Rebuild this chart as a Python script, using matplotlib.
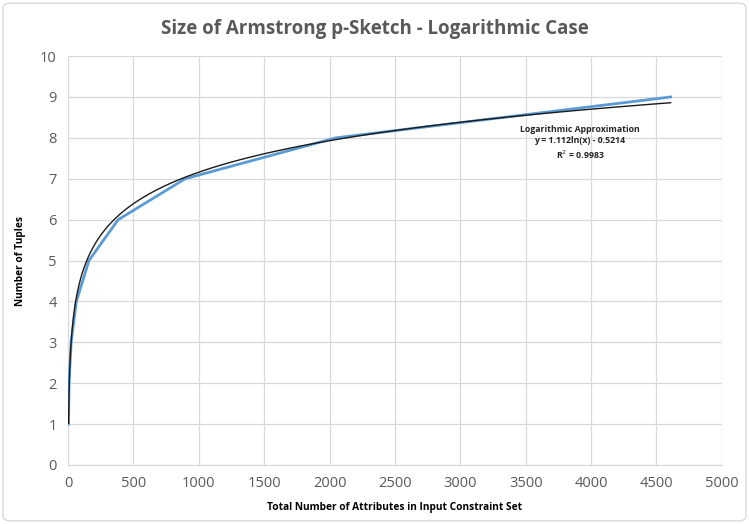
import numpy as np
import matplotlib
matplotlib.use("Agg")
import matplotlib.pyplot as plt
from matplotlib.patches import FancyBboxPatch

# Data
x_attrs = [4, 8, 24, 64, 160, 384, 896, 2048, 4608]
y_tuples = [1, 2, 3, 4, 5, 6, 7, 8, 9]
trend_a = 1.112
trend_b = -0.5214
r_squared = 0.9983
x_ticks = [0, 500, 1000, 1500, 2000, 2500, 3000, 3500, 4000, 4500, 5000]
y_ticks = [0, 1, 2, 3, 4, 5, 6, 7, 8, 9, 10]

plt.rcParams['font.family'] = ['Open Sans', 'DejaVu Sans']

fig = plt.figure(figsize=(7.49, 5.24), dpi=100)
fig.patch.set_facecolor('white')
border = FancyBboxPatch((0.004, 0.006), 0.992, 0.988, boxstyle="round,pad=0,rounding_size=0.01",
                        transform=fig.transFigure, facecolor='none', edgecolor='#d9d9d9', linewidth=1)
fig.patches.append(border)

ax = fig.add_axes([0.0908, 0.1126, 0.873, 0.7804])
ax.set_xlim(0, 5000)
ax.set_ylim(0, 10)
ax.set_xticks(x_ticks)
ax.set_yticks(y_ticks)
ax.grid(True, color='#d9d9d9', linewidth=0.9)
ax.set_axisbelow(True)
for s in ['top', 'right']:
    ax.spines[s].set_visible(False)
ax.spines['left'].set_color('#d9d9d9')
ax.spines['bottom'].set_color('#d9d9d9')
ax.tick_params(length=0, labelsize=10.5, labelcolor='#595959', pad=8)

ax.plot(x_attrs, y_tuples, color='#5b9bd5', linewidth=2, zorder=3)

xt = np.linspace(min(x_attrs), max(x_attrs), 2000)
ax.plot(xt, trend_a * np.log(xt) + trend_b, color='#1a1a1a', linewidth=1, zorder=4)

ax.text(3914, 7.87, 'Logarithmic Approximation\n'
        f'y = {trend_a}ln(x) - {abs(trend_b)}\nR$^2$ = {r_squared}',
        ha='center', va='center', fontsize=6.3, fontweight='bold', color='#262626',
        linespacing=1.3)

ax.set_xlabel('Total Number of Attributes in Input Constraint Set', fontsize=7.3,
              fontweight='bold', labelpad=8)
ax.set_ylabel('Number of Tuples', fontsize=7.3, fontweight='bold', labelpad=10)

fig.text(0.5, 0.945, 'Size of Armstrong p-Sketch - Logarithmic Case', ha='center', va='center',
         fontsize=13.5, fontweight='bold', color='#595959')

fig.savefig('out.png', dpi=100)
